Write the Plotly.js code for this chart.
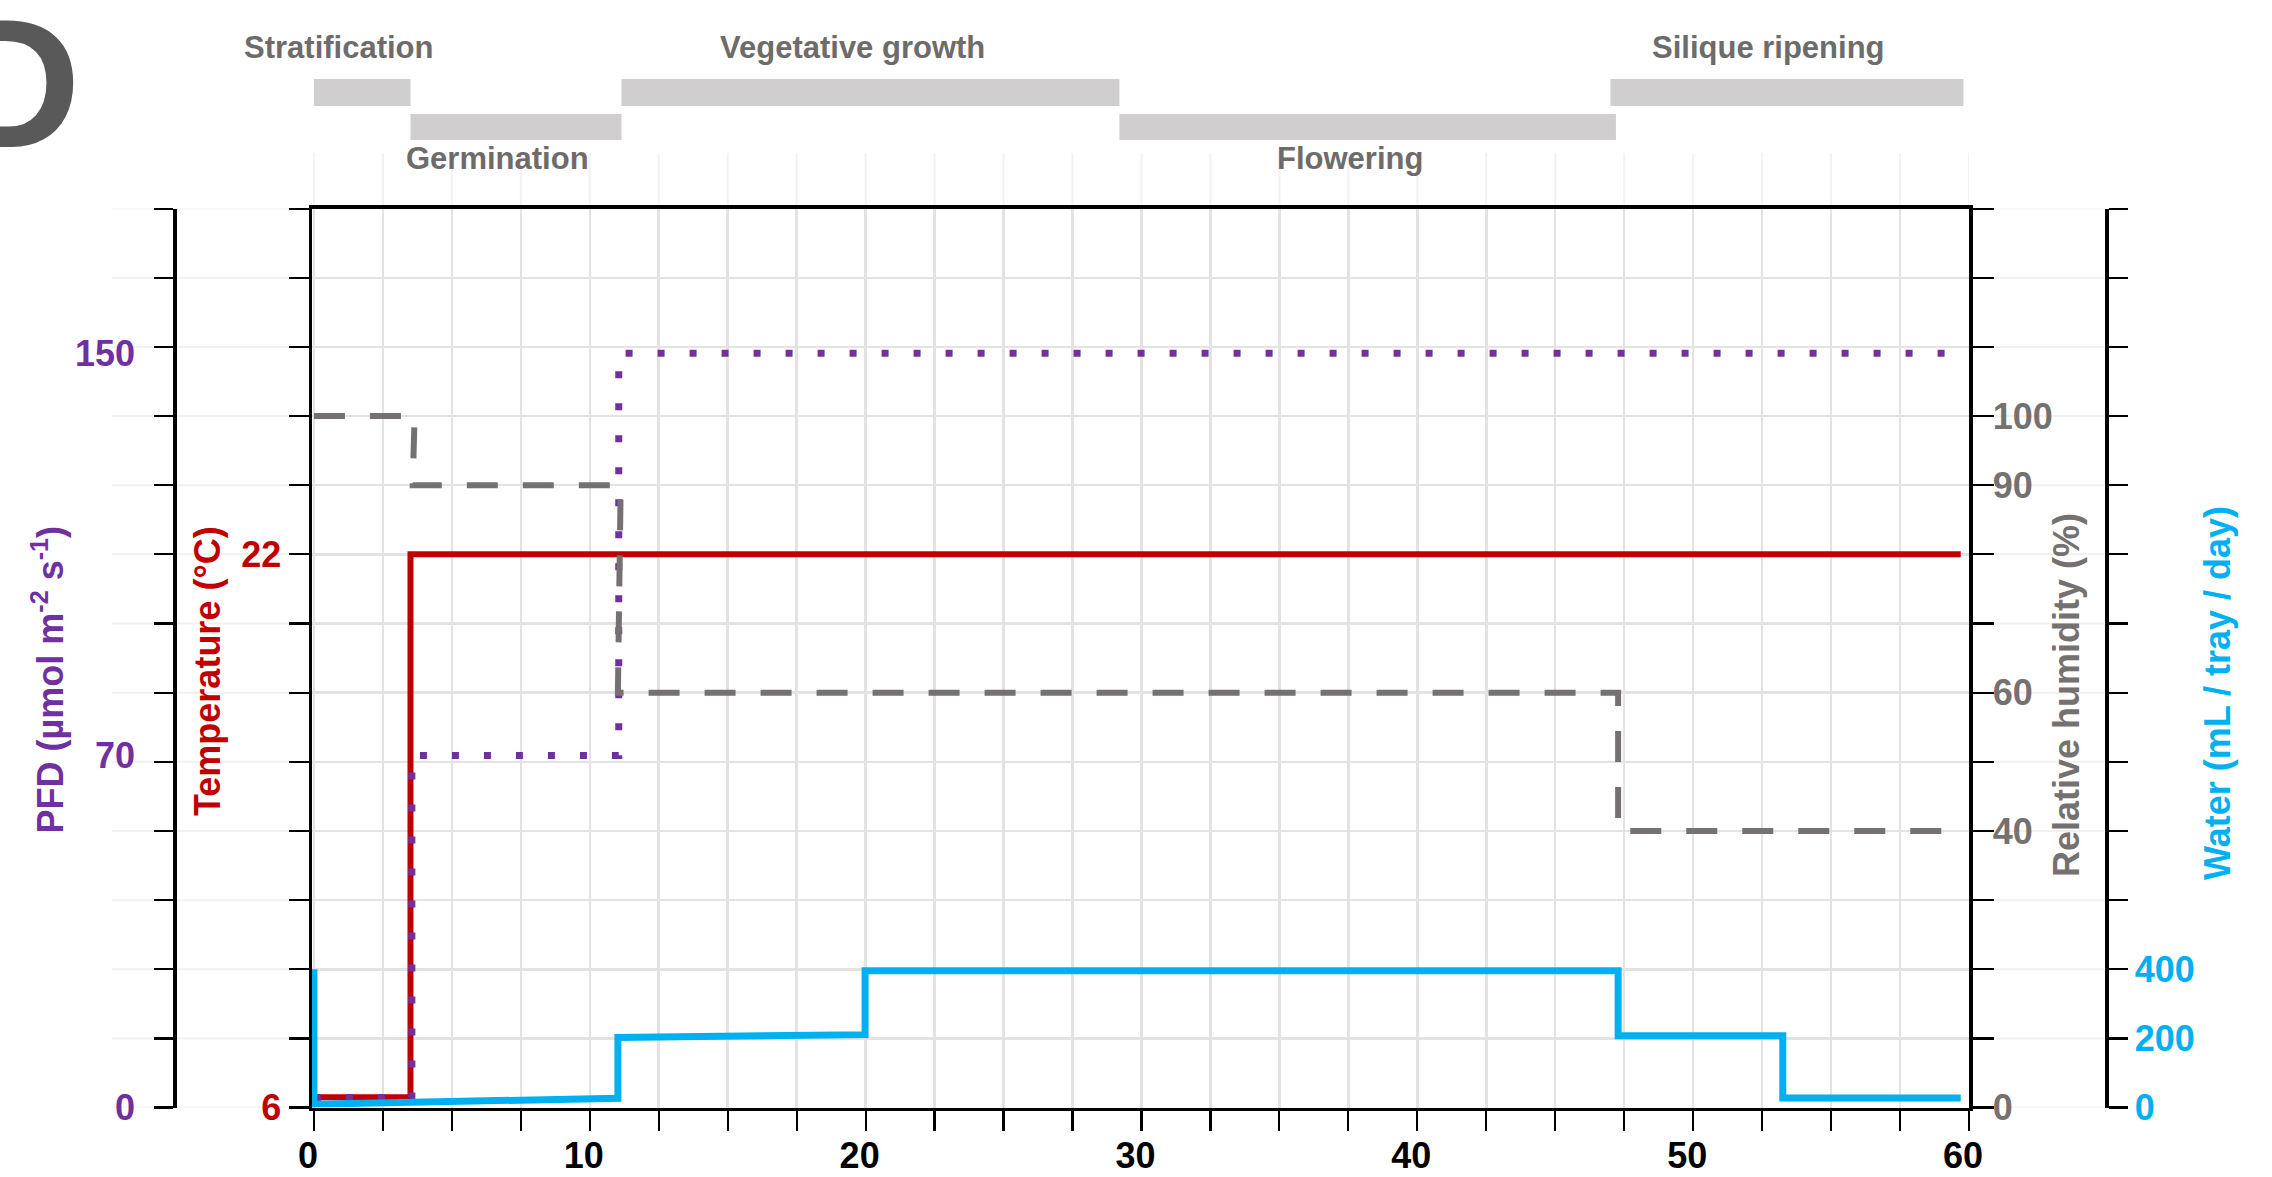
<!DOCTYPE html>
<html>
<head>
<meta charset="utf-8">
<script src="https://cdn.plot.ly/plotly-3.0.1.min.js"></script>
<style>
  html, body { margin: 0; padding: 0; background: #ffffff; }
  #chart { width: 2272px; height: 1177px; }
</style>
</head>
<body>
<div id="chart"></div>
<script>
// ---------------- DATA ----------------
const tempDay = [0, 3.5, 59.7];
const tempC   = [6.3, 22, 22];

const pfdDay = [0, 3.55, 11.05, 59.5];
const pfdVal = [2, 70, 150, 150];

const rhDay = [0, 3.65, 3.58, 11.12, 11.02, 47.28, 47.28, 59.7];
const rhVal = [100, 100, 90, 90, 60, 60, 40, 40];

const waterDay = [0, 0, 11.02, 11.02, 19.98, 19.98, 47.28, 47.28, 53.25, 53.25, 59.7];
const waterMl  = [400, 10, 27, 203, 211, 396, 396, 208, 208, 28, 28];

const phaseNames = ['Stratification', 'Germination', 'Vegetative growth', 'Flowering', 'Silique ripening'];
const phaseStart = [0, 3.5, 11.15, 29.2, 47.0];
const phaseEnd   = [3.5, 11.15, 29.2, 47.2, 59.8];

const dayTickLabels   = [0, 10, 20, 30, 40, 50, 60];
const tempTickLabels  = [6, 22];
const pfdTickLabels   = [0, 70, 150];
const rhTickLabels    = [0, 40, 60, 90, 100];
const waterTickLabels = [0, 200, 400];

const titlePFD   = 'PFD (µmol m<sup>-2</sup> s<sup>-1</sup>)';
const titleTemp  = 'Temperature (°C)';
const titleRH    = 'Relative humidity (%)';
const titleWater = 'Water (mL / tray / day)';
const panelLetter = 'D';

// ---------------- LAYOUT HELPERS ----------------
const W = 2272, H = 1177;
const fx = p => p / W;
const fy = p => 1 - p / H;
const FONT = 'Liberation Sans, Arial, Helvetica, sans-serif';
const plotL = 312, plotR = 1969, plotT = 208.6, plotB = 1107.6;

const C_PFD = '#7030a0', C_TEMP = '#c00000', C_RH = '#767171', C_WATER = '#00b0f0';
const C_GRID = '#e3e3e3', C_PHASE_TXT = '#6e6b6b', C_PHASE_BAR = '#d0cece';

function steps(a, b, s) { const r = []; for (let k = 0; a + k * s <= b + 1e-9; k++) r.push(+(a + k * s).toFixed(6)); return r; }
function labelsFor(vals, labeled) { return vals.map(v => labeled.some(l => Math.abs(l - v) < 1e-6) ? String(v) : ''); }

const xTicks = steps(0, 60, 2.5);
const tempTicks = steps(6, 32, 2);
const pfdStep = 13.75;
const pfdTicks = steps(0, 13 * pfdStep, pfdStep);
const rhTicks = steps(0, 130, 10);
const waterTicks = steps(0, 2600, 200);

const tickFont = c => ({ family: FONT, size: 36, color: c, weight: 'bold' });
const yDomain = [fy(plotB), fy(plotT)];

const baseY = {
  domain: yDomain, showline: true, linecolor: '#000', linewidth: 3.5,
  ticks: 'outside', ticklen: 20, tickwidth: 2.2, tickcolor: '#000',
  zeroline: false, showgrid: false, automargin: false, tickmode: 'array', fixedrange: true
};

// ---------------- TRACES ----------------
const traces = [
  { x: tempDay, y: tempC, yaxis: 'y', type: 'scatter', mode: 'lines',
    line: { color: C_TEMP, width: 6, shape: 'hv' }, hoverinfo: 'skip' },
  { x: pfdDay, y: pfdVal, yaxis: 'y2', type: 'scatter', mode: 'lines',
    line: { color: C_PFD, width: 7, shape: 'hv', dash: '7px,25px' }, hoverinfo: 'skip' },
  { x: rhDay, y: rhVal, yaxis: 'y3', type: 'scatter', mode: 'lines',
    line: { color: C_RH, width: 6, dash: '31px,25px' }, hoverinfo: 'skip' },
  { x: waterDay, y: waterMl, yaxis: 'y4', type: 'scatter', mode: 'lines',
    line: { color: C_WATER, width: 7 }, hoverinfo: 'skip' }
];

// ---------------- SHAPES ----------------
const shapes = [];
phaseNames.forEach((n, i) => {
  const top = i % 2 === 0;
  shapes.push({ type: 'rect', xref: 'x', yref: 'paper',
    x0: phaseStart[i], x1: phaseEnd[i],
    y0: top ? fy(106) : fy(140), y1: top ? fy(79) : fy(114),
    fillcolor: C_PHASE_BAR, line: { width: 0 } });
});
// faint grid lines outside the main box
tempTicks.forEach(v => {
  shapes.push({ type: 'line', xref: 'paper', yref: 'y', x0: fx(112), x1: fx(290), y0: v, y1: v,
    line: { color: '#f1f1f1', width: 2 }, layer: 'below' });
  shapes.push({ type: 'line', xref: 'paper', yref: 'y', x0: fx(1992), x1: fx(2104), y0: v, y1: v,
    line: { color: '#f1f1f1', width: 2 }, layer: 'below' });
});
xTicks.forEach(v => {
  shapes.push({ type: 'line', xref: 'x', yref: 'paper', x0: v, x1: v, y0: fy(206), y1: fy(153),
    line: { color: '#f2f2f2', width: 2 }, layer: 'below' });
});

// ---------------- ANNOTATIONS ----------------
const annotations = [];
annotations.push({ text: panelLetter, xref: 'paper', yref: 'paper', x: fx(83), y: fy(83), xanchor: 'right', yanchor: 'middle',
  showarrow: false, font: { family: FONT, size: 184, color: '#595959', weight: 'bold' } });

phaseNames.forEach((n, i) => {
  const top = i % 2 === 0;
  annotations.push({ text: n, xref: 'x', yref: 'paper', x: (phaseStart[i] + phaseEnd[i]) / 2, xshift: i === 0 ? -24 : -18,
    y: top ? fy(47.4) : fy(158.4), xanchor: 'center', yanchor: 'middle', showarrow: false,
    font: { family: FONT, size: 31, color: C_PHASE_TXT, weight: 'bold' } });
});

pfdTickLabels.forEach(v => {
  annotations.push({ text: String(v), xref: 'paper', yref: 'y2', x: fx(137), y: v, xanchor: 'right', yanchor: 'middle',
    showarrow: false, font: tickFont(C_PFD) });
});

const axTitle = (t, x, y, c) => ({ text: t, xref: 'paper', yref: 'paper', x: fx(x), y: fy(y), textangle: -90,
  xanchor: 'center', yanchor: 'middle', showarrow: false, font: { family: FONT, size: 36, color: c, weight: 'bold' } });
annotations.push(axTitle(titlePFD, 47.5, 680, C_PFD));
annotations.push(axTitle(titleTemp, 207, 671, C_TEMP));
annotations.push(axTitle(titleRH, 2066, 695, C_RH));
annotations.push(axTitle(titleWater, 2217, 693, C_WATER));

// ---------------- LAYOUT ----------------
const layout = {
  width: W, height: H,
  margin: { l: 0, r: 0, t: 0, b: 0, pad: 0 },
  paper_bgcolor: '#ffffff', plot_bgcolor: '#ffffff',
  showlegend: false, hovermode: false,
  xaxis: {
    domain: [fx(plotL), fx(plotR)], range: [-0.07, 60],
    showline: true, mirror: true, linecolor: '#000', linewidth: 3.5,
    ticks: 'outside', ticklen: 20, tickwidth: 2.2, tickcolor: '#000',
    tickmode: 'array', tickvals: xTicks, ticktext: labelsFor(xTicks, dayTickLabels),
    tickfont: tickFont('#000'), ticklabelstandoff: -6, ticklabelshift: -6,
    showgrid: true, gridcolor: C_GRID, gridwidth: 2.5, zeroline: false, automargin: false, fixedrange: true
  },
  yaxis: Object.assign({}, baseY, {
    range: [6, 32], side: 'left', anchor: 'x',
    tickvals: tempTicks, ticktext: labelsFor(tempTicks, tempTickLabels), tickfont: tickFont(C_TEMP),
    showgrid: true, gridcolor: C_GRID, gridwidth: 2.5
  }),
  yaxis2: Object.assign({}, baseY, {
    range: [0, 13 * pfdStep], overlaying: 'y', side: 'left', anchor: 'free', position: fx(174),
    tickvals: pfdTicks, showticklabels: false, ticklen: 19
  }),
  yaxis3: Object.assign({}, baseY, {
    range: [0, 130], overlaying: 'y', side: 'right', anchor: 'x',
    tickvals: rhTicks, ticktext: labelsFor(rhTicks, rhTickLabels), tickfont: tickFont(C_RH), ticklen: 21,
    ticklabelstandoff: -8
  }),
  yaxis4: Object.assign({}, baseY, {
    range: [0, 2600], overlaying: 'y', side: 'right', anchor: 'free', position: fx(2106),
    tickvals: waterTicks, ticktext: labelsFor(waterTicks, waterTickLabels), tickfont: tickFont(C_WATER), ticklen: 19
  }),
  shapes: shapes,
  annotations: annotations
};

Plotly.newPlot('chart', traces, layout, { staticPlot: true, displayModeBar: false });
</script>
</body>
</html>
